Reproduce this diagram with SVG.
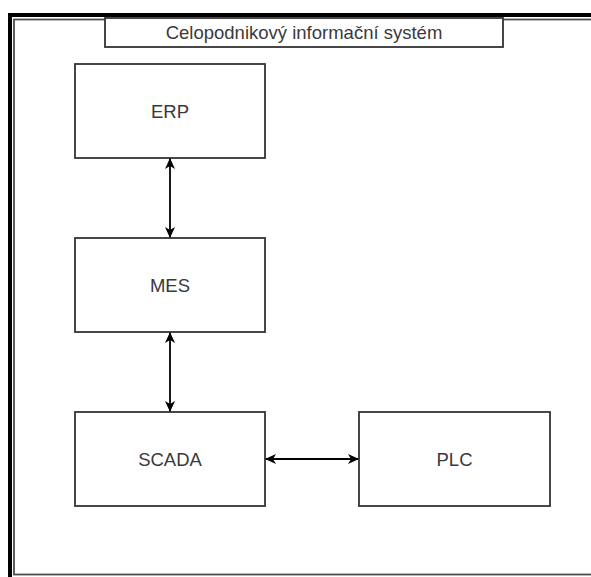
<svg xmlns="http://www.w3.org/2000/svg" width="591" height="577" viewBox="0 0 591 577">
<style>
.box{fill:#ffffff;stroke:#333333;stroke-width:1.8}
.lbl{font-family:"Liberation Sans",Arial,sans-serif;font-size:18.5px;fill:#3a3a3a;text-anchor:middle;dominant-baseline:central}
.con{stroke:#000000;stroke-width:1.8;fill:none}
</style>
<defs>
<marker id="ah" viewBox="0 0 11 11" refX="11" refY="5.5" markerWidth="11" markerHeight="11" markerUnits="userSpaceOnUse" orient="auto-start-reverse">
<path d="M0,0.5 L11,5.5 L0,10.5 L3,5.5 Z" fill="#000000"/>
</marker>
</defs>
<rect x="0" y="0" width="591" height="577" fill="#ffffff"/>
<g id="frame">
<path d="M10,577 V15 H591" fill="none" stroke="#000000" stroke-width="4"/>
<rect x="14" y="19.5" width="600" height="555" fill="none" stroke="#4d4d4d" stroke-width="1.8"/>
</g>
<g id="title">
<rect class="box" x="105" y="18" width="398" height="29"/>
<text class="lbl" x="304" y="32.5">Celopodnikový informační systém</text>
</g>
<g id="connectors">
<line class="con" x1="170" y1="158" x2="170" y2="238" marker-start="url(#ah)" marker-end="url(#ah)"/>
<line class="con" x1="170" y1="332" x2="170" y2="412" marker-start="url(#ah)" marker-end="url(#ah)"/>
<line class="con" x1="265" y1="459" x2="359" y2="459" marker-start="url(#ah)" marker-end="url(#ah)"/>
</g>
<g id="erp">
<rect class="box" x="75" y="64" width="190" height="94"/>
<text class="lbl" x="170" y="111">ERP</text>
</g>
<g id="mes">
<rect class="box" x="75" y="238" width="190" height="94"/>
<text class="lbl" x="170" y="285">MES</text>
</g>
<g id="scada">
<rect class="box" x="75" y="412" width="190" height="94"/>
<text class="lbl" x="170" y="459">SCADA</text>
</g>
<g id="plc">
<rect class="box" x="359" y="412" width="191" height="94"/>
<text class="lbl" x="454.5" y="459">PLC</text>
</g>
</svg>
